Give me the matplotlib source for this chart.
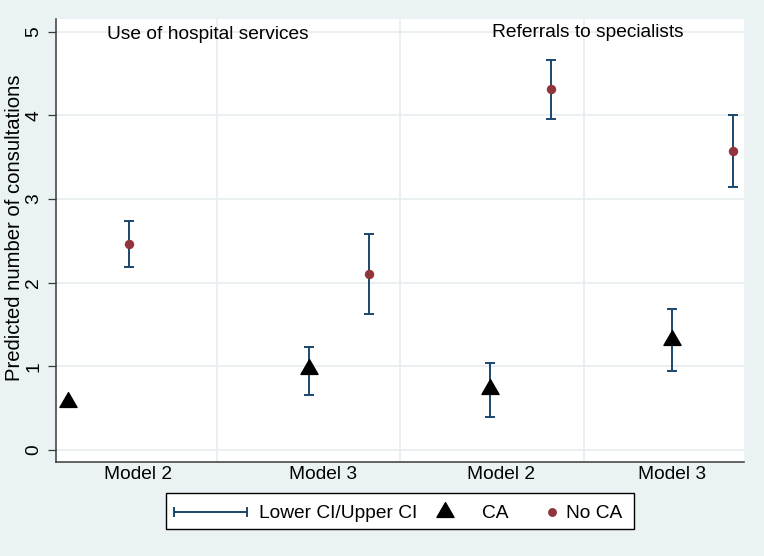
import matplotlib
matplotlib.use("Agg")
import matplotlib.pyplot as plt
import numpy as np
from matplotlib.path import Path
from matplotlib.lines import Line2D
from matplotlib.patches import Rectangle

# ---- data ----
tick_labels = ["Model 2", "Model 3", "Model 2", "Model 3"]
tick_pos = [1.07, 2.08, 3.05, 3.98]
group_dividers = [1.5, 2.5, 3.5]
panel_titles = ["Use of hospital services", "Referrals to specialists"]
panel_title_x = [1.45, 3.52]
panel_title_y = [4.91, 4.94]

ca_x = [0.69, 2.00, 2.99, 3.98]
ca_est = [0.57, 0.97, 0.73, 1.32]
ca_lo = [np.nan, 0.66, 0.39, 0.94]
ca_hi = [np.nan, 1.23, 1.04, 1.68]

noca_x = [1.02, 2.33, 3.32, 4.31]
noca_est = [2.46, 2.10, 4.31, 3.57]
noca_lo = [2.19, 1.63, 3.95, 3.14]
noca_hi = [2.74, 2.58, 4.66, 4.00]

y_ticks = [0, 1, 2, 3, 4, 5]

# ---- style ----
BG = "#eaf2f3"
GRID = "#e6eef0"
NAVY = "#1a476f"
MAROON = "#90353b"
FONT = "Liberation Sans"
FS = 13.8

plt.rcParams["font.family"] = [FONT, "DejaVu Sans"]

fig = plt.figure(figsize=(7.64, 5.56), dpi=100, facecolor=BG)
W, H = 764, 556
ax = fig.add_axes([56 / W, 1 - 462 / H, 688 / W, 443 / H])
ax.set_facecolor("white")
ax.set_xlim(0.6226, 4.372)
ax.set_ylim(-0.143, 5.15)

# grid
ax.set_yticks(y_ticks)
ax.yaxis.grid(True, color=GRID, lw=1.2, zorder=0)
for gx in group_dividers:
    ax.axvline(gx, color=GRID, lw=1.2, zorder=0)
ax.set_axisbelow(True)

# triangle marker (equilateral, centered)
tri = Path([(-1, -0.577), (1, -0.577), (0, 1.155), (-1, -0.577)],
           [Path.MOVETO, Path.LINETO, Path.LINETO, Path.CLOSEPOLY])

# error bars
ca_x_a = np.array(ca_x); ca_est_a = np.array(ca_est)
ca_lo_a = np.array(ca_lo); ca_hi_a = np.array(ca_hi)
m = ~np.isnan(ca_lo_a)
ax.errorbar(ca_x_a[m], ca_est_a[m],
            yerr=[ca_est_a[m] - ca_lo_a[m], ca_hi_a[m] - ca_est_a[m]],
            fmt="none", ecolor=NAVY, elinewidth=1.4, capsize=3.4, capthick=1.4, zorder=2)
noca_est_a = np.array(noca_est)
ax.errorbar(noca_x, noca_est,
            yerr=[noca_est_a - np.array(noca_lo), np.array(noca_hi) - noca_est_a],
            fmt="none", ecolor=NAVY, elinewidth=1.4, capsize=3.4, capthick=1.4, zorder=2)

ax.plot(ca_x, ca_est, linestyle="none", marker=tri, markersize=14.2,
        color="black", zorder=3)
ax.plot(noca_x, noca_est, linestyle="none", marker="o", markersize=6.8,
        color=MAROON, markeredgewidth=0, zorder=3)

for t, tx, ty in zip(panel_titles, panel_title_x, panel_title_y):
    ax.text(tx, ty, t, ha="center", va="baseline", fontsize=FS, color="black")

# axes styling
for s in ["top", "right"]:
    ax.spines[s].set_visible(False)
for s in ["left", "bottom"]:
    ax.spines[s].set_color("#3a3a3a")
    ax.spines[s].set_linewidth(1.1)

ax.set_xticks(tick_pos)
ax.set_xticklabels(tick_labels, fontsize=FS)
ax.tick_params(axis="x", length=0, pad=3)
ax.tick_params(axis="y", length=5.8, width=0.9, color="#3a3a3a", pad=4, labelsize=FS,
               labelrotation=90)
for lab in ax.get_yticklabels():
    lab.set_va("center")

ax.set_ylabel("Predicted number of consultations", fontsize=14.6)
ax.yaxis.set_label_coords(-0.047, 0.528)

# ---- legend (Stata style key box) ----
def fx(px):
    return px / W

def fy(py):
    return 1 - py / H

fig.patches.append(Rectangle((fx(166), fy(529)), fx(634) - fx(166), fy(493) - fy(529),
                             transform=fig.transFigure, facecolor="white",
                             edgecolor="black", lw=1.0, zorder=1))
ly = 512
fig.lines.append(Line2D([fx(174), fx(247)], [fy(ly), fy(ly)], transform=fig.transFigure,
                        color=NAVY, lw=1.4, zorder=2))
for cx in (174, 247):
    fig.lines.append(Line2D([fx(cx), fx(cx)], [fy(ly - 4), fy(ly + 4)],
                            transform=fig.transFigure, color=NAVY, lw=1.4, zorder=2))
fig.lines.append(Line2D([fx(445)], [fy(ly)], transform=fig.transFigure, linestyle="none",
                        marker=tri, markersize=14.2, color="black", zorder=2))
fig.lines.append(Line2D([fx(552)], [fy(ly)], transform=fig.transFigure, linestyle="none",
                        marker="o", markersize=6.4, color=MAROON, markeredgewidth=0, zorder=2))
legend_labels = ["Lower CI/Upper CI", "CA", "No CA"]
legend_text_x = [259, 482, 566]
for lab, tx in zip(legend_labels, legend_text_x):
    fig.text(fx(tx), fy(ly), lab, ha="left", va="center_baseline", fontsize=FS, zorder=3)

fig.savefig("out.png", dpi=100, facecolor=BG)
